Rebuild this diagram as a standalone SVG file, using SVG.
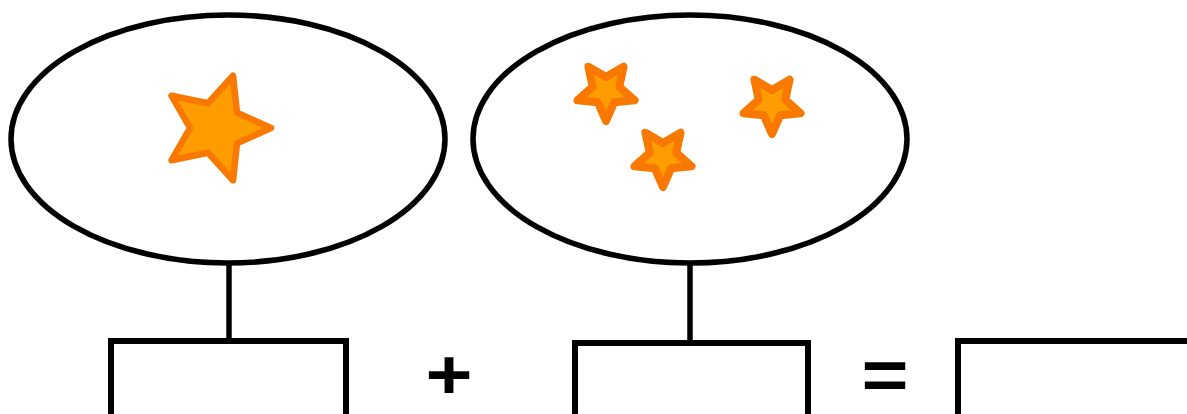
<svg xmlns="http://www.w3.org/2000/svg" width="1187" height="414" viewBox="0 0 1187 414">
  <style>
    .bubble { fill: #ffffff; stroke: #000000; stroke-width: 5.5; }
    .box { fill: #ffffff; stroke: #000000; stroke-width: 6; }
    .link { stroke: #000000; stroke-width: 5.5; fill: none; }
    .star { fill: #ff9c00; stroke: #f97800; stroke-linejoin: round; }
    .big { stroke-width: 6.5; }
    .small { stroke-width: 8; }
    .op { font-family: "Liberation Sans", Arial, sans-serif; font-size: 70px; font-weight: bold; fill: #000000; text-anchor: middle; }
  </style>
  <defs>
    <path id="smallStar" d="M28.5,9.3 L8.2,11.3 L0,30 L-8.2,11.3 L-28.5,9.3 L-13.3,-4.3 L-17.6,-24.3 L0,-14 L17.6,-24.3 L13.3,-4.3 Z"/>
  </defs>
  <rect width="1187" height="414" fill="#ffffff"/>
  <g id="connectors">
    <line class="link" x1="229" y1="262" x2="229" y2="340"/>
    <line class="link" x1="690" y1="262" x2="690" y2="342"/>
  </g>
  <g id="set1">
    <ellipse class="bubble" cx="228" cy="139" rx="217" ry="124"/>
    <path class="star big" d="M271,128 L237,143.3 L233,180.3 L208,152.7 L171.5,160.3 L190,128 L171.5,95.7 L208,103.3 L233,75.7 L237,112.7 Z"/>
  </g>
  <g id="set2">
    <ellipse class="bubble" cx="690" cy="139" rx="217" ry="124"/>
    <use href="#smallStar" class="star small" transform="translate(606,91)"/>
    <use href="#smallStar" class="star small" transform="translate(663,157)"/>
    <use href="#smallStar" class="star small" transform="translate(772,104)"/>
  </g>
  <g id="box1">
    <rect class="box" x="111" y="341" width="235" height="80"/>
  </g>
  <g id="box2">
    <rect class="box" x="575" y="343" width="233" height="80"/>
  </g>
  <g id="box3">
    <rect class="box" x="958" y="341" width="240" height="80"/>
  </g>
  <g id="plus">
    <text class="op" transform="translate(449,399) scale(1.15,1)" x="0" y="0">+</text>
  </g>
  <g id="equals">
    <text class="op" transform="translate(885,399) scale(1.15,1)" x="0" y="0">=</text>
  </g>
</svg>
